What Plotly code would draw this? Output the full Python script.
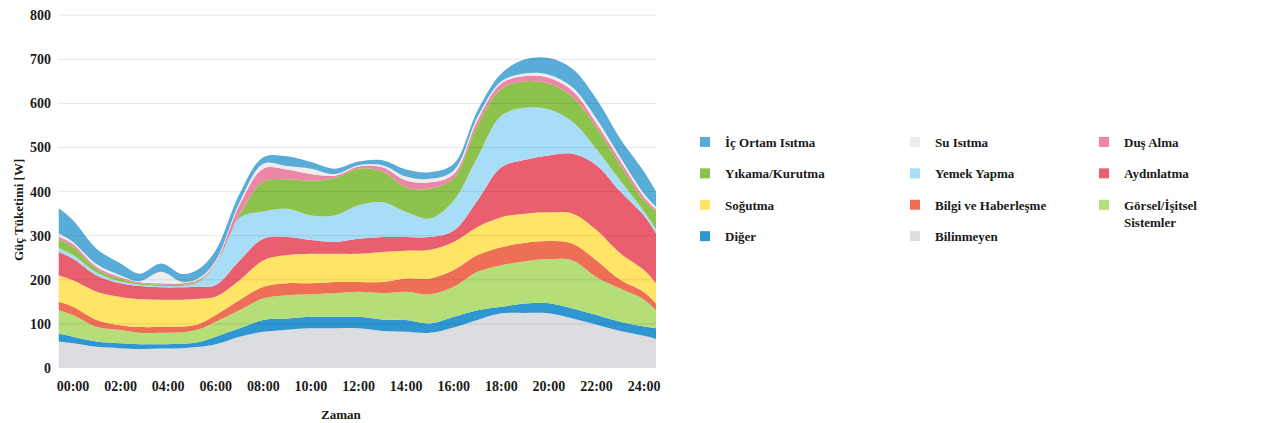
import plotly.graph_objects as go

hours = [-0.6, 0, 1, 2, 2.8, 3.7, 4.6, 5.3, 6, 7, 8, 9, 10, 11, 12, 13, 14, 15, 16,
         17, 18, 19, 20, 21, 22, 23, 24, 24.5]

bilinmeyen = [60, 56, 48, 45, 43, 44, 45, 48, 54, 71, 82, 87, 90, 90, 90, 84, 82, 80, 92,
              109, 124, 125, 124, 112, 98, 84, 73, 66]
diger = [18, 15, 12, 11, 11, 10, 10, 11, 17, 19, 27, 25, 26, 26, 26, 26, 27, 21, 24,
         22, 15, 21, 23, 23, 22, 21, 21, 24]
gorsel = [53, 49, 33, 30, 26, 26, 26, 29, 34, 41, 49, 53, 51, 54, 57, 60, 64, 66, 68,
          87, 94, 96, 100, 109, 86, 75, 61, 41]
bilgi = [19, 19, 16, 11, 13, 13, 13, 12, 15, 23, 26, 27, 25, 25, 22, 25, 30, 36, 38,
         38, 41, 42, 41, 38, 38, 20, 17, 15]
sogutma = [60, 60, 64, 64, 63, 62, 61, 57, 42, 45, 60, 64, 67, 64, 64, 68, 63, 65, 64,
           64, 68, 66, 65, 68, 69, 60, 50, 46]
aydinlatma = [53, 49, 37, 31, 30, 28, 28, 27, 26, 45, 49, 41, 31, 27, 34, 34, 31, 29, 26,
              60, 113, 122, 129, 136, 147, 140, 123, 113]
yemek = [9, 8, 6, 4, 3, 3, 3, 11, 48, 96, 62, 64, 56, 60, 76, 79, 57, 42, 68,
         98, 117, 118, 104, 72, 36, 25, 10, 10]
yikama = [20, 19, 8, 6, 3, 3, 3, 3, 1, 8, 68, 67, 79, 85, 83, 70, 56, 68, 51,
          72, 61, 60, 59, 56, 49, 35, 25, 40]
dus = [6, 6, 5, 4, 3, 3, 3, 3, 3, 22, 29, 22, 15, 5, 5, 9, 15, 14, 9,
       12, 12, 12, 13, 14, 10, 10, 8, 5]
su = [7, 5, 6, 4, 2, 26, 3, 3, 4, 6, 11, 8, 12, 4, 3, 5, 9, 8, 8,
      7, 5, 6, 7, 8, 10, 8, 7, 5]
ic_ortam = [57, 49, 35, 27, 17, 19, 18, 21, 23, 19, 15, 22, 15, 12, 8, 11, 16, 15, 15,
            15, 18, 32, 38, 42, 45, 42, 50, 35]

tick_vals = [0, 2, 4, 6, 8, 10, 12, 14, 16, 18, 20, 22, 24]
tick_text = ["00:00", "02:00", "04:00", "06:00", "08:00", "10:00", "12:00",
             "14:00", "16:00", "18:00", "20:00", "22:00", "24:00"]
y_ticks = [0, 100, 200, 300, 400, 500, 600, 700, 800]

# (name, values, colour, legend, rank) in stacking order bottom -> top
series = [
    ("Bilinmeyen", bilinmeyen, "#DCDDE0", "legend2", 4),
    ("Diğer", diger, "#3096D2", "legend", 4),
    ("Görsel/İşitsel<br>Sistemler", gorsel, "#B5DD78", "legend3", 3),
    ("Bilgi ve Haberleşme", bilgi, "#EE6F56", "legend2", 3),
    ("Soğutma", sogutma, "#FFE466", "legend", 3),
    ("Aydınlatma", aydinlatma, "#EA5F70", "legend3", 2),
    ("Yemek Yapma", yemek, "#A7DDF6", "legend2", 2),
    ("Yıkama/Kurutma", yikama, "#8DC24C", "legend", 2),
    ("Duş Alma", dus, "#EE86A8", "legend3", 1),
    ("Su Isıtma", su, "#EDEDF0", "legend2", 1),
    ("İç Ortam Isıtma", ic_ortam, "#5AACD8", "legend", 1),
]

FONT = "Liberation Serif, Times New Roman, serif"
TXT = "#1a1a1a"

# page body has an 8px margin, so the figure is laid out 8px smaller / shifted
W, H = 1255, 415

fig = go.Figure()
for name, vals, col, leg, rank in series:
    fig.add_trace(go.Scatter(
        x=hours, y=vals, name=name, stackgroup="one", mode="lines",
        line=dict(width=0, shape="spline", smoothing=1.0, color=col),
        fillcolor=col, showlegend=False, hoverinfo="skip"))
for name, vals, col, leg, rank in series:
    fig.add_trace(go.Scatter(
        x=[None], y=[None], name=name, mode="markers",
        marker=dict(symbol="square", size=10, color=col),
        legend=leg, legendgroup=name, legendrank=rank, showlegend=True))

# faint grid lines drawn over the areas, as in the original
for v in y_ticks[1:]:
    fig.add_shape(type="line", xref="paper", x0=0, x1=1, yref="y", y0=v, y1=v,
                  line=dict(color="rgba(0,0,0,0.09)", width=1), layer="above")

def leg(xpx):
    return dict(xref="container", yref="container", x=xpx / W, y=1 - 119 / H,
                xanchor="left", yanchor="top", traceorder="grouped",
                tracegroupgap=11.5, valign="top",
                font=dict(family=FONT, size=13, color=TXT, weight="bold"),
                bgcolor="rgba(0,0,0,0)")

fig.update_layout(
    width=W, height=H,
    margin=dict(l=50, r=607, t=4.8, b=55, autoexpand=False),
    paper_bgcolor="white", plot_bgcolor="white",
    font=dict(family=FONT, size=14, color=TXT),
    legend=leg(677), legend2=leg(887), legend3=leg(1076),
    xaxis=dict(range=[-0.63, 24.5], tickvals=tick_vals, ticktext=tick_text,
               showgrid=False, zeroline=False, showline=False, ticks="",
               ticklabelstandoff=8, automargin=False,
               tickfont=dict(family=FONT, size=14, color=TXT, weight="bold")),
    yaxis=dict(range=[0, 805], tickvals=y_ticks, showgrid=False,
               zeroline=False, showline=False, ticks="", ticklabelstandoff=6,
               automargin=False,
               tickfont=dict(family=FONT, size=14, color=TXT, weight="bold")),
    annotations=[
        dict(text="<b>Güç Tüketimi [W]</b>", textangle=-90, xref="paper", yref="paper",
             x=(10 - 50) / 598, y=(360 - 202) / 355.2, xanchor="center", yanchor="middle",
             showarrow=False, font=dict(family=FONT, size=13, color=TXT)),
        dict(text="<b>Zaman</b>", xref="paper", yref="paper",
             x=(333 - 50) / 598, y=(360 - 407) / 355.2, xanchor="center", yanchor="middle",
             showarrow=False, font=dict(family=FONT, size=13, color=TXT)),
    ],
)

fig.write_html("out.html")
